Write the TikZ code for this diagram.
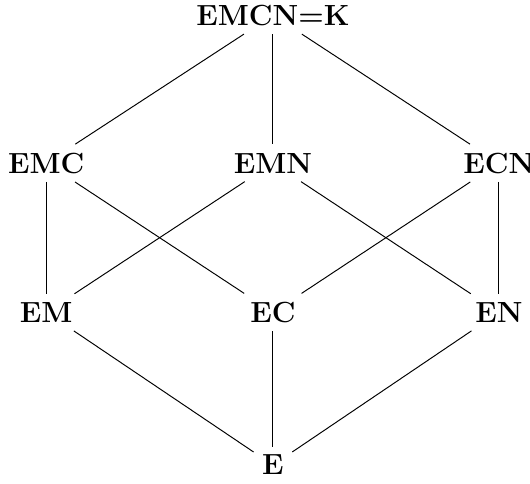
\documentclass[tikz,border=0pt]{standalone}
\begin{document}
\begin{tikzpicture}[every node/.style={font=\large\bfseries}]
        \useasboundingbox (-3.95,-0.26) rectangle (3.72,6.73);
        \node (k) at (0,6.51) {EMCN=K};
        \foreach \n/\x/\y in {emc/-3.28/4.37, emn/0/4.37, ecn/3.27/4.37, em/-3.28/2.21, ec/0/2.21, en/3.27/2.21, e/0/0} {
                \node (\n) at (\x,\y) {\MakeUppercase{\n}};
            }
        \foreach \a/\b in {k/emc, k/emn, k/ecn, emc/em, emc/ec, emn/em, emn/en, ecn/ec, ecn/en, em/e, ec/e, en/e} {
                \draw (\a) -- (\b);
            }
    \end{tikzpicture}
\end{document}
